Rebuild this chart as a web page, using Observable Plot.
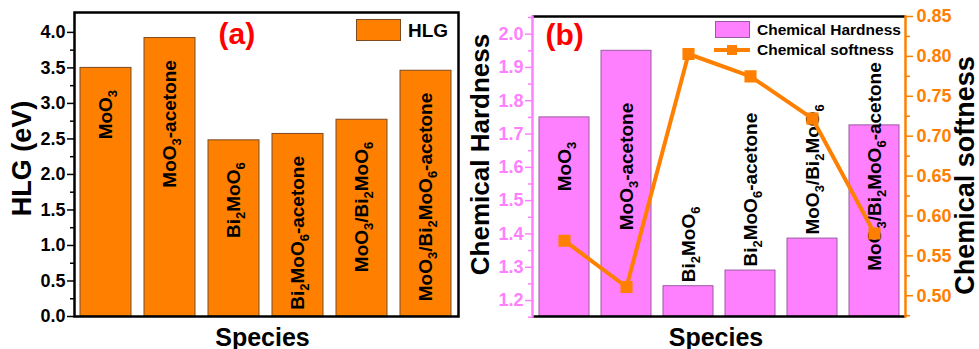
<!DOCTYPE html>
<html><head><meta charset="utf-8">
<script src="https://cdn.jsdelivr.net/npm/d3@7"></script>
<script src="https://cdn.jsdelivr.net/npm/@observablehq/plot@0.6"></script>
<style>
body{margin:0;background:#fff;}
#wrap{position:relative;width:979px;height:349px;overflow:hidden;font-family:'Liberation Sans',Arial,Helvetica,sans-serif;font-weight:bold;background:#fff;}
.layer{position:absolute;top:0;height:349px;}
.leg{position:absolute;white-space:nowrap;line-height:1;}
</style></head><body>
<div id="wrap">
  <div id="pa" class="layer" style="left:0;width:462px"></div>
  <div id="pb" class="layer" style="left:462px;width:517px"></div>
  <div id="pb2" class="layer" style="left:462px;width:517px"></div>
  <!-- legend (a) -->
  <div class="leg" style="left:356px;top:19px;width:45px;height:22px;background:#ff8000;border:1px solid #7a4a20;box-sizing:border-box"></div>
  <div class="leg" style="left:408px;top:21px;font-size:19px">HLG</div>
  <!-- legend (b) -->
  <div class="leg" style="left:715px;top:21px;width:35px;height:17px;background:#ff80ff;border:1px solid #9a5aa0;box-sizing:border-box"></div>
  <div class="leg" style="left:757px;top:22px;font-size:15.5px">Chemical Hardness</div>
  <div class="leg" style="left:714px;top:48px;width:36px;height:4px;background:#ff8000"></div>
  <div class="leg" style="left:727px;top:45px;width:10px;height:10px;background:#ff8000"></div>
  <div class="leg" style="left:757px;top:42px;font-size:15.5px">Chemical softness</div>
</div>
<script>
// ---- data ----
const species = ["MoO3", "MoO3-acetone", "Bi2MoO6", "Bi2MoO6-acetone", "MoO3/Bi2MoO6", "MoO3/Bi2MoO6-acetone"];
const hlg = [3.50, 3.92, 2.48, 2.57, 2.77, 3.46];
const hardness = [1.75, 1.95, 1.243, 1.29, 1.386, 1.726];
const softness = [0.569, 0.511, 0.803, 0.775, 0.722, 0.578];
const hlgTicks = [0, 0.5, 1.0, 1.5, 2.0, 2.5, 3.0, 3.5, 4.0];
const hlgMinorTicks = [0.25, 0.75, 1.25, 1.75, 2.25, 2.75, 3.25, 3.75];
const hardTicks = [1.2, 1.3, 1.4, 1.5, 1.6, 1.7, 1.8, 1.9, 2.0];
const hardMinorTicks = [1.15, 1.25, 1.35, 1.45, 1.55, 1.65, 1.75, 1.85, 1.95, 2.05];
const softTicks = [0.50, 0.55, 0.60, 0.65, 0.70, 0.75, 0.80, 0.85];
const softMinorTicks = [0.475, 0.525, 0.575, 0.625, 0.675, 0.725, 0.775, 0.825];
const hlgDomain = [0, 4.28];
const hardDomain = [1.152, 2.053];
const softDomain = [0.474, 0.85];

// ---- styles ----
const FONT = "'Liberation Sans', Arial, Helvetica, sans-serif";
const ORANGE = "#ff8000";
const PINK = "#ff80ff";
const TICK_FS = 18;
const LABEL_FS = 19;
const baseStyle = {background: "transparent", fontFamily: FONT, fontWeight: "bold", fontSize: "17px", color: "black", overflow: "visible"};
const xBand = {type: "band", domain: species, paddingInner: 0.2, paddingOuter: 0.1, axis: null};

const dataA = species.map((s, i) => ({species: s, hlg: hlg[i]}));
const dataB = species.map((s, i) => ({species: s, hardness: hardness[i], softness: softness[i]}));

const plotA = Plot.plot({
  width: 462, height: 349, marginLeft: 74, marginRight: 4, marginTop: 12, marginBottom: 33,
  style: baseStyle,
  x: xBand,
  y: {domain: hlgDomain, label: null},
  marks: [
    Plot.barY(dataA, {x: "species", y: "hlg", fill: ORANGE, stroke: "#7a4a20", strokeWidth: 1}),
    Plot.text(dataA, {x: "species", y: "hlg", text: "species", rotate: -90, textAnchor: "end", dy: 22, fontSize: LABEL_FS, fontWeight: "bold", fill: "black"}),
    Plot.axisY({ticks: hlgMinorTicks, tickSize: 4, tickFormat: () => "", strokeWidth: 1.5, label: null}),
    Plot.axisY({ticks: hlgTicks, tickSize: 7, tickPadding: 2, tickFormat: d3.format(".1f"), fontSize: TICK_FS, strokeWidth: 1.5, label: null}),
    Plot.frame({stroke: "black", strokeWidth: 2.5}),
    Plot.text(["HLG (eV)"], {text: d => d, frameAnchor: "left", textAnchor: "middle", lineAnchor: "middle", rotate: -90, dx: -52, dy: -6, fontSize: 27, fontWeight: "bold"}),
    Plot.text(["Species"], {text: d => d, frameAnchor: "bottom", textAnchor: "middle", lineAnchor: "middle", dx: -4, dy: 21, fontSize: 25, fontWeight: "bold"}),
    Plot.text(["(a)"], {text: d => d, frameAnchor: "top-left", textAnchor: "start", lineAnchor: "middle", dx: 144, dy: 22, fontSize: 30, fontWeight: "bold", fill: "#ff0000"})
  ]
});

const plotB = Plot.plot({
  width: 517, height: 349, marginLeft: 70, marginRight: 74, marginTop: 16, marginBottom: 33,
  style: baseStyle,
  x: xBand,
  y: {domain: hardDomain, label: null},
  marks: [
    Plot.barY(dataB, {x: "species", y1: () => hardDomain[0], y2: "hardness", fill: PINK, stroke: "#9a5aa0", strokeWidth: 1}),
    Plot.text(dataB.filter(d => d.hardness >= 1.5), {x: "species", text: "species", rotate: -90, textAnchor: "middle", fontSize: LABEL_FS, fontWeight: "bold", fill: "black"}),
    Plot.text(dataB.filter(d => d.hardness < 1.5), {x: "species", y: "hardness", text: "species", rotate: -90, textAnchor: "start", dy: -4, fontSize: LABEL_FS, fontWeight: "bold", fill: "black"}),
    Plot.axisY({ticks: hardMinorTicks, tickSize: 4, tickFormat: () => "", strokeWidth: 1.5, color: PINK, label: null}),
    Plot.axisY({ticks: hardTicks, tickSize: 7, tickPadding: 2, tickFormat: d3.format(".1f"), fontSize: TICK_FS, strokeWidth: 1.5, color: PINK, label: null}),
    Plot.ruleY(hardDomain, {stroke: "black", strokeWidth: 2.5}),
    Plot.frame({anchor: "left", stroke: PINK, strokeWidth: 2.5}),
    Plot.text(["Chemical Hardness"], {text: d => d, frameAnchor: "left", textAnchor: "middle", lineAnchor: "middle", rotate: -90, dx: -52, dy: -12, fontSize: 26, fontWeight: "bold"}),
    Plot.text(["Species"], {text: d => d, frameAnchor: "bottom", textAnchor: "middle", lineAnchor: "middle", dx: -3, dy: 21, fontSize: 25, fontWeight: "bold"}),
    Plot.text(["(b)"], {text: d => d, frameAnchor: "top-left", textAnchor: "start", lineAnchor: "middle", dx: 13, dy: 19, fontSize: 30, fontWeight: "bold", fill: "#ff0000"})
  ]
});

const plotB2 = Plot.plot({
  width: 517, height: 349, marginLeft: 70, marginRight: 74, marginTop: 16, marginBottom: 33,
  style: baseStyle,
  x: xBand,
  y: {domain: softDomain, label: null},
  marks: [
    Plot.line(dataB, {x: "species", y: "softness", stroke: ORANGE, strokeWidth: 4}),
    Plot.dot(dataB, {x: "species", y: "softness", symbol: "square", r: 6, fill: ORANGE, stroke: ORANGE}),
    Plot.axisY({anchor: "right", ticks: softMinorTicks, tickSize: 4, tickFormat: () => "", strokeWidth: 1.5, color: ORANGE, label: null}),
    Plot.axisY({anchor: "right", ticks: softTicks, tickSize: 7, tickPadding: 4, tickFormat: d3.format(".2f"), fontSize: TICK_FS, strokeWidth: 1.5, color: ORANGE, label: null}),
    Plot.frame({anchor: "right", stroke: ORANGE, strokeWidth: 2.5}),
    Plot.text(["Chemical softness"], {text: d => d, frameAnchor: "right", textAnchor: "middle", lineAnchor: "middle", rotate: -90, dx: 60, dy: 9, fontSize: 27, fontWeight: "bold", fill: "black"})
  ]
});

// subscripts for chemical formulas
function subscriptify(svg) {
  svg.querySelectorAll("text").forEach(t => {
    const s = t.textContent;
    if (!/MoO|Bi/.test(s)) return;
    const parts = s.split(/(\d)/).filter(p => p !== "");
    while (t.firstChild) t.removeChild(t.firstChild);
    let shifted = false;
    parts.forEach(p => {
      const ts = document.createElementNS("http://www.w3.org/2000/svg", "tspan");
      ts.textContent = p;
      if (/^\d$/.test(p)) {
        ts.setAttribute("font-size", "13");
        ts.setAttribute("dy", "5");
        shifted = true;
      } else if (shifted) {
        ts.setAttribute("dy", "-5");
        shifted = false;
      }
      t.appendChild(ts);
    });
  });
}
[plotA, plotB].forEach(subscriptify);

document.getElementById("pa").appendChild(plotA);
document.getElementById("pb").appendChild(plotB);
document.getElementById("pb2").appendChild(plotB2);
</script>
</body></html>
